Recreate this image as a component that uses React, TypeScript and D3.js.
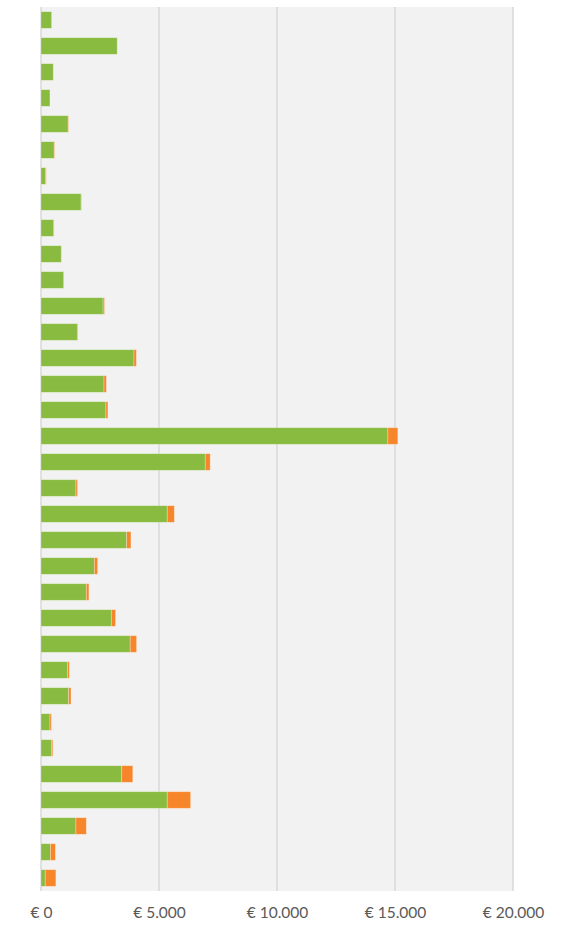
import * as d3 from "d3";
import React, { useEffect, useRef } from "react";

// one entry per bar, top to bottom (no labels shown on the chart)
const categories = d3.range(1, 35).map((i) => "R" + i);
const greenValues = [
  450, 3230, 520, 380, 1150, 560, 200, 1700, 540, 860, 960, 2630, 1540, 3940, 2670, 2750,
  14700, 6960, 1480, 5350, 3630, 2260, 1920, 2980, 3780, 1120, 1170, 380, 440, 3420, 5350,
  1480, 400, 180,
];
const orangeValues = [
  0, 0, 0, 0, 20, 20, 20, 15, 15, 10, 0, 60, 30, 100, 100, 85,
  420, 210, 70, 300, 180, 140, 110, 180, 270, 80, 100, 60, 60, 470, 990,
  440, 210, 450,
];
const xTicks = [0, 5000, 10000, 15000, 20000];

const W = 565;
const H = 925;
const margin = { top: 7, right: 52, bottom: 34, left: 41 };

const fmt = (v: number) => "€ " + d3.format(",")(v).replace(/,/g, ".");

export default function App() {
  const svgRef = useRef<SVGSVGElement>(null);

  useEffect(() => {
    const svg = d3.select(svgRef.current);
    svg.selectAll("*").remove();

    const width = W - margin.left - margin.right;
    const height = H - margin.top - margin.bottom;

    const g = svg.append("g").attr("transform", `translate(${margin.left},${margin.top})`);

    const x = d3.scaleLinear().domain([0, 20000]).range([0, width]);
    const y = d3.scaleBand().domain(categories).range([0, height]).paddingInner(0.36).paddingOuter(0.18);

    // plot background
    g.append("rect").attr("width", width).attr("height", height).attr("fill", "#f2f2f2");

    // gridlines
    g.selectAll("line.grid")
      .data(xTicks)
      .enter()
      .append("line")
      .attr("class", "grid")
      .attr("x1", (d) => x(d))
      .attr("x2", (d) => x(d))
      .attr("y1", 0)
      .attr("y2", height)
      .attr("stroke", "#d9d9d9")
      .attr("stroke-width", 1.5);

    const rows = categories.map((c, i) => ({ c, g: greenValues[i], o: orangeValues[i] }));

    // green part
    g.selectAll("rect.green")
      .data(rows)
      .enter()
      .append("rect")
      .attr("class", "green")
      .attr("x", x(0))
      .attr("y", (d) => y(d.c)!)
      .attr("width", (d) => x(d.g) - x(0))
      .attr("height", y.bandwidth())
      .attr("fill", "#8abb41")
      .attr("stroke", "#ffffff")
      .attr("stroke-opacity", 0.35)
      .attr("stroke-width", 0.8);

    // orange part
    g.selectAll("rect.orange")
      .data(rows.filter((d) => d.o > 0))
      .enter()
      .append("rect")
      .attr("class", "orange")
      .attr("x", (d) => x(d.g))
      .attr("y", (d) => y(d.c)!)
      .attr("width", (d) => x(d.g + d.o) - x(d.g))
      .attr("height", y.bandwidth())
      .attr("fill", "#f7862b")
      .attr("stroke", "#ffffff")
      .attr("stroke-opacity", 0.35)
      .attr("stroke-width", 0.8);

    // x axis labels
    const axis = g.append("g").attr("transform", `translate(0,${height})`)
      .call(d3.axisBottom(x).tickValues(xTicks).tickFormat((d) => fmt(+d)).tickSize(0).tickPadding(16));
    axis.select(".domain").remove();
    axis.selectAll("text")
      .attr("fill", "#595959")
      .style("font-family", "Lato, 'Open Sans', sans-serif")
      .style("font-size", "15.5px");
  }, []);

  return (
    <svg
      ref={svgRef}
      width={W}
      height={H}
      style={{ position: "absolute", left: 0, top: 0, background: "#ffffff" }}
    />
  );
}
